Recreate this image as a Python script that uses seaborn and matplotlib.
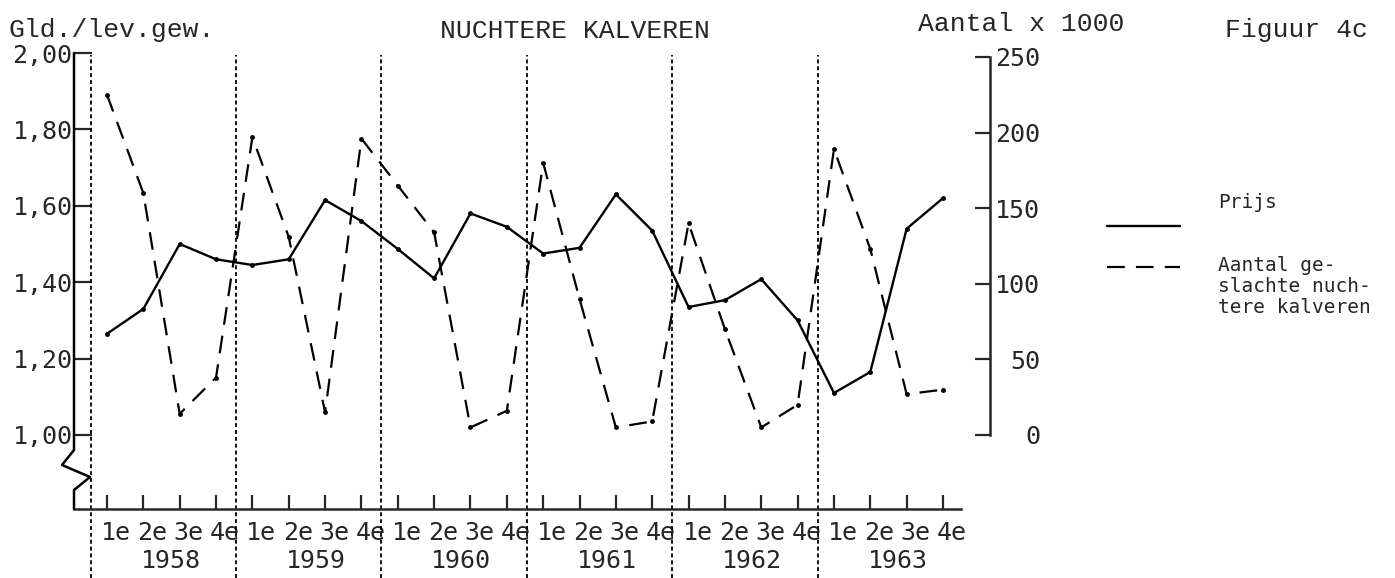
import numpy as np
import pandas as pd
import matplotlib
matplotlib.use("Agg")
import matplotlib.pyplot as plt
from matplotlib.lines import Line2D
from matplotlib.transforms import ScaledTranslation, blended_transform_factory
import seaborn as sns

# ---- data ----
years = ["1958", "1959", "1960", "1961", "1962", "1963"]
quarters = ["1e", "2e", "3e", "4e"]
price = [1.265, 1.33, 1.50, 1.46,
         1.445, 1.46, 1.615, 1.56,
         1.487, 1.41, 1.58, 1.545,
         1.475, 1.49, 1.63, 1.535,
         1.335, 1.353, 1.408, 1.30,
         1.11, 1.165, 1.54, 1.62]
count = [225, 160, 14, 38,
         197, 131, 15, 196,
         165, 134, 5, 16,
         180, 90, 5, 9,
         140, 70, 5, 20,
         189, 123, 27, 30]
left_ticks = [1.00, 1.20, 1.40, 1.60, 1.80, 2.00]
right_ticks = [0, 50, 100, 150, 200, 250]

sns.set_style("white")
plt.rcParams["font.family"] = ["DejaVu Sans Mono"]

W, H = 1395, 578
fig = plt.figure(figsize=(W / 100, H / 100), dpi=100)
fig.patch.set_facecolor("white")

# axes pixel frame
x_left, x_right, y_top, y_bot = 74, 990, 53, 509
ax = fig.add_axes([x_left / W, (H - y_bot) / H, (x_right - x_left) / W, (y_bot - y_top) / H])
ax.set_facecolor("none")

pos = np.arange(len(price))
df = pd.DataFrame({"pos": pos, "price": price, "count": count})

px_per_q = (943 - 107) / 23.0
xmin = (x_left - 107) / px_per_q
xmax = (x_right - 107) / px_per_q
ax.set_xlim(xmin, xmax)
ax.set_ylim(1.0 - (y_bot - 435) / 382.0, 2.0)

sns.lineplot(data=df, x="pos", y="price", ax=ax, color="black", lw=1.7,
             marker="o", markersize=3.5, markeredgewidth=0)

ax2 = ax.twinx()
ax2.set_facecolor("none")
ppu = (435 - 57) / 250.0
ax2.set_ylim(-(y_bot - 435) / ppu, 250 + (57 - y_top) / ppu)
ax2.set_xlim(xmin, xmax)
sns.lineplot(data=df, x="pos", y="count", ax=ax2, color="black", lw=1.6,
             linestyle=(0, (8, 5)), marker="o", markersize=3.5, markeredgewidth=0)

# year dividers
for k in range(len(years)):
    ax.axvline(4 * k - 0.45, ymin=-(578 - y_bot) / (y_bot - y_top), ymax=0.995,
               color="black", lw=1.3, linestyle=(0, (2.2, 1.6)), clip_on=False)

# spines
for s in ["top", "right", "left"]:
    ax.spines[s].set_visible(False)
for s in ["top", "left", "bottom"]:
    ax2.spines[s].set_visible(False)
ax.spines["bottom"].set_bounds(xmin, 23.5)
ax.spines["bottom"].set_linewidth(1.8)
ax2.spines["right"].set_bounds(0, 250)
ax2.spines["right"].set_linewidth(1.8)

# left axis with break (drawn in pixels)
bx = [74, 74, 62, 90, 74, 74]
by = [53, 450, 465, 477, 490, 509]
fig.add_artist(Line2D([v / W for v in bx], [1 - v / H for v in by],
                      transform=fig.transFigure, color="black", lw=1.8))

# left ticks
ax.set_yticks(left_ticks)
ax.set_yticklabels([f"{v:.2f}".replace(".", ",") for v in left_ticks])
ax.tick_params(axis="y", direction="in", length=13, width=1.6, pad=1,
               labelsize=18, left=True)

# right ticks
ax2.set_yticks(right_ticks)
ax2.set_yticklabels([str(v) for v in right_ticks])
ax2.tick_params(axis="y", direction="in", length=11, width=1.6, pad=36,
                labelsize=18, right=True)
for lab in ax2.get_yticklabels():
    lab.set_horizontalalignment("right")
ax2.set_xticks([])
ax2.set_ylabel("")
ax2.set_xlabel("")

# x ticks
ax.set_xticks(pos)
ax.set_xticklabels([q for _ in years for q in quarters])
ax.tick_params(axis="x", direction="in", length=10, width=1.6, pad=9,
               labelsize=18, bottom=True)
off = ScaledTranslation(9 / 100, 0, fig.dpi_scale_trans)
for lab in ax.get_xticklabels():
    lab.set_transform(lab.get_transform() + off)
ax.set_xlabel("")
ax.set_ylabel("")

trans = blended_transform_factory(ax.transData, ax.transAxes)
for k, yr in enumerate(years):
    ax.text(4 * k + 1.5, -(561 - y_bot) / (y_bot - y_top), yr, transform=trans + off,
            ha="center", va="center", fontsize=18)

# header texts
hf = ["Liberation Mono", "DejaVu Sans Mono"]
fig.text(8 / W, 1 - 37 / H, "Gld./lev.gew.", family=hf, fontsize=19, va="baseline", ha="left")
fig.text(575 / W, 1 - 38 / H, "NUCHTERE KALVEREN", family=hf, fontsize=19, va="baseline", ha="center")
fig.text(918 / W, 1 - 31 / H, "Aantal x 1000", family=hf, fontsize=19, va="baseline", ha="left")
fig.text(1225 / W, 1 - 37 / H, "Figuur 4c", family=hf, fontsize=19, va="baseline", ha="left")

# legend (manual)
fig.add_artist(Line2D([1107 / W, 1180 / W], [1 - 226 / H, 1 - 226 / H],
                      transform=fig.transFigure, color="black", lw=1.7))
fig.add_artist(Line2D([1107 / W, 1180 / W], [1 - 267 / H, 1 - 267 / H],
                      transform=fig.transFigure, color="black", lw=1.6,
                      linestyle=(0, (8, 5))))
fig.text(1218 / W, 1 - 203 / H, "Prijs", fontsize=14, va="center", ha="left")
fig.text(1218 / W, 1 - 256 / H, "Aantal ge-\nslachte nuch-\ntere kalveren",
         fontsize=14, va="top", ha="left", linespacing=1.12)

fig.savefig("out.png", dpi=100, facecolor="white")
